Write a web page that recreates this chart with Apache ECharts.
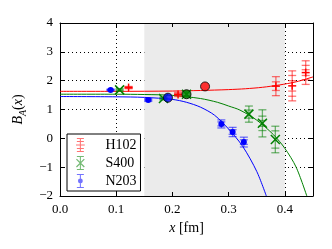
<!DOCTYPE html>
<html><head><meta charset="utf-8">
<script src="https://cdn.jsdelivr.net/npm/echarts@6/dist/echarts.min.js"></script>
<style>html,body{margin:0;padding:0;background:#fff}#c{width:332px;height:249px}</style>
</head><body><div id="c"></div>
<script>
// ---- data ----
const xTicks = [0.0, 0.1, 0.2, 0.3, 0.4];
const yTicks = [-2, -1, 0, 1, 2, 3, 4];
const seriesNames = ['H102', 'S400', 'N203'];

// H102 points (red, '+')
const H102_x  = [0.122, 0.210, 0.384, 0.413, 0.437];
const H102_y  = [1.76, 1.52, 1.81, 1.82, 2.28];
const H102_e1 = [0.04, 0.07, 0.33, 0.52, 0.41];
const H102_e2 = [0.02, 0.03, 0.15, 0.36, 0.25];
const H102_e3 = [0, 0, 0, 0.18, 0.10];

// S400 points (green, 'x')
const S400_x  = [0.106, 0.184, 0.225, 0.336, 0.360, 0.383];
const S400_y  = [1.68, 1.38, 1.53, 0.84, 0.52, -0.04];
const S400_e1 = [0.04, 0.05, 0.10, 0.28, 0.47, 0.46];
const S400_e2 = [0.02, 0.02, 0.05, 0.14, 0.25, 0.30];
const S400_e3 = [0, 0, 0, 0, 0.10, 0];

// N203 points (blue, dot)
const N203_x  = [0.090, 0.157, 0.287, 0.307, 0.327];
const N203_y  = [1.68, 1.33, 0.50, 0.22, -0.13];
const N203_e1 = [0.03, 0.05, 0.14, 0.16, 0.17];
const N203_e2 = [0.01, 0.02, 0.07, 0.08, 0.08];
const N203_e3 = [0, 0, 0, 0, 0];

// big circles
const big_x = [0.258, 0.225, 0.192];
const big_y = [1.80, 1.53, 1.41];

// fitted curves
const H102_fit_x = [0, 0.1, 0.2, 0.25, 0.3, 0.33, 0.36, 0.39, 0.42, 0.45];
const H102_fit_y = [1.63, 1.63, 1.64, 1.66, 1.69, 1.72, 1.77, 1.85, 1.96, 2.13];
const S400_fit_x = [0, 0.1, 0.15, 0.2, 0.25, 0.28, 0.3, 0.32, 0.35, 0.38, 0.4, 0.42, 0.439];
const S400_fit_y = [1.53, 1.53, 1.52, 1.49, 1.38, 1.25, 1.12, 0.98, 0.63, 0.12, -0.35, -1.0, -2.0];
const N203_fit_x = [0, 0.1, 0.15, 0.2, 0.225, 0.25, 0.275, 0.3, 0.325, 0.35, 0.367];
const N203_fit_y = [1.45, 1.44, 1.42, 1.35, 1.25, 1.08, 0.80, 0.32, -0.28, -1.15, -2.0];

const band = [0.15, 0.4];

// ---- build ----
const FONT = 'Liberation Serif';
const zip = (a, b) => a.map((v, i) => [v, b[i]]);
const pts = (x, y, e1, e2, e3) => x.map((v, i) => [v, y[i], e1[i], e2[i], e3[i]]);

function makeRender(marker, mcolor) {
  return function (params, api) {
    const x = api.value(0), y = api.value(1);
    const errs = [api.value(2), api.value(3), api.value(4)];
    const color = api.visual('color');
    const c = api.coord([x, y]);
    const emax = Math.max.apply(null, errs);
    const t = api.coord([x, y + emax]), b = api.coord([x, y - emax]);
    const ch = [];
    ch.push({type: 'line', shape: {x1: c[0], y1: t[1], x2: c[0], y2: b[1]}, style: {stroke: color, lineWidth: 1.3}});
    errs.forEach(function (e) {
      if (e > 0) {
        [1, -1].forEach(function (s) {
          const p = api.coord([x, y + s * e]);
          ch.push({type: 'line', shape: {x1: c[0] - 4, y1: p[1], x2: c[0] + 4, y2: p[1]}, style: {stroke: color, lineWidth: 1.3}});
        });
      }
    });
    if (marker === 'plus') {
      ch.push({type: 'line', shape: {x1: c[0] - 4, y1: c[1], x2: c[0] + 4, y2: c[1]}, style: {stroke: mcolor, lineWidth: 1.5}});
      ch.push({type: 'line', shape: {x1: c[0], y1: c[1] - 4, x2: c[0], y2: c[1] + 4}, style: {stroke: mcolor, lineWidth: 1.5}});
    } else if (marker === 'x') {
      ch.push({type: 'line', shape: {x1: c[0] - 4.5, y1: c[1] - 4.5, x2: c[0] + 4.5, y2: c[1] + 4.5}, style: {stroke: mcolor, lineWidth: 1.5}});
      ch.push({type: 'line', shape: {x1: c[0] - 4.5, y1: c[1] + 4.5, x2: c[0] + 4.5, y2: c[1] - 4.5}, style: {stroke: mcolor, lineWidth: 1.5}});
    } else {
      ch.push({type: 'circle', shape: {cx: c[0], cy: c[1], r: 3}, style: {fill: mcolor}});
    }
    return {type: 'group', children: ch};
  };
}

const capPath = 'M4,0H12V1.2H4Z M4,14.8H12V16H4Z M7.4,0H8.6V16H7.4Z ';
const icons = {
  H102: 'path://' + capPath + 'M4,3.5H12V4.5H4Z M4,11.5H12V12.5H4Z M3,7.4H13V8.6H3Z',
  S400: 'path://' + capPath + 'M3,4L4,3L13,12L12,13Z M12,3L13,4L4,13L3,12Z',
  N203: 'path://' + capPath + 'M8,5.2A2.8,2.8 0 1,1 7.99,5.2Z'
};

const axisCommon = {
  axisLine: {show: true, onZero: false, lineStyle: {color: '#000', width: 1}},
  axisTick: {show: true, inside: true, length: 4, lineStyle: {color: '#000'}},
  z: 1
};

const option = {
  animation: false,
  backgroundColor: '#fff',
  grid: {left: 60, right: 19, top: 23, bottom: 53},
  legend: {
    left: 67, top: 134, orient: 'vertical',
    data: seriesNames.map(n => ({name: n, icon: icons[n]})),
    itemWidth: 14, itemHeight: 14, itemGap: 4,
    padding: [4, 4, 3, 9],
    backgroundColor: '#fff', borderColor: '#000', borderWidth: 1, borderRadius: 0,
    textStyle: {fontFamily: FONT, fontSize: 14, color: '#000', padding: [0, 0, 0, 13]}
  },
  xAxis: [
    Object.assign({
      type: 'value', min: 0, max: 0.45, interval: 0.1, position: 'bottom',
      name: '{i|x} [fm]', nameLocation: 'middle', nameGap: 22,
      nameTextStyle: {fontFamily: FONT, fontSize: 14, color: '#000', rich: {i: {fontFamily: FONT, fontStyle: 'italic', fontSize: 14, color: '#000'}}},
      axisLabel: {showMaxLabel: false, margin: 7, fontFamily: FONT, fontSize: 13, color: '#000',
        formatter: v => xTicks.some(t => Math.abs(t - v) < 1e-9) ? v.toFixed(1) : ''},
      splitLine: {show: true, lineStyle: {color: '#000', type: [1, 3], width: 1}}
    }, axisCommon),
    Object.assign({
      type: 'value', min: 0, max: 0.45, interval: 0.1, position: 'top',
      axisLabel: {show: false}, splitLine: {show: false}
    }, axisCommon)
  ],
  yAxis: [
    Object.assign({
      type: 'value', min: -2, max: 4, interval: 1, position: 'left',
      name: '{i|B}{s|A}{n|(}{i|x}{n|)}', nameLocation: 'middle', nameGap: 27,
      nameTextStyle: {fontFamily: FONT, fontSize: 14, color: '#000', rich: {
        i: {fontFamily: FONT, fontStyle: 'italic', fontSize: 14, color: '#000'},
        s: {fontFamily: FONT, fontStyle: 'italic', fontSize: 10, color: '#000', padding: [9, 0, 0, 0]},
        n: {fontFamily: FONT, fontSize: 14, color: '#000'}
      }},
      axisLabel: {margin: 7, fontFamily: FONT, fontSize: 13, color: '#000',
        formatter: v => yTicks.indexOf(v) < 0 ? '' : (v < 0 ? '\u2212' + (-v) : String(v))},
      splitLine: {show: true, lineStyle: {color: '#000', type: [1, 3], width: 1}}
    }, axisCommon),
    Object.assign({
      type: 'value', min: -2, max: 4, interval: 1, position: 'right',
      axisLabel: {show: false}, splitLine: {show: false}
    }, axisCommon)
  ],
  series: [
    {type: 'line', data: [], z: 0, silent: true,
      markArea: {silent: true, itemStyle: {color: '#ebebeb'}, data: [[{xAxis: band[0]}, {xAxis: band[1]}]]}},
    {type: 'line', name: 'H102 fit', data: zip(H102_fit_x, H102_fit_y), smooth: 0.3, showSymbol: false, clip: true,
      lineStyle: {color: '#ff0000', width: 1}, z: 2},
    {type: 'line', name: 'S400 fit', data: zip(S400_fit_x, S400_fit_y), smooth: 0.3, showSymbol: false, clip: true,
      lineStyle: {color: '#008000', width: 1}, z: 2},
    {type: 'line', name: 'N203 fit', data: zip(N203_fit_x, N203_fit_y), smooth: 0.3, showSymbol: false, clip: true,
      lineStyle: {color: '#0000ff', width: 1}, z: 2},
    {type: 'custom', name: 'H102', data: pts(H102_x, H102_y, H102_e1, H102_e2, H102_e3), encode: {x: 0, y: 1},
      itemStyle: {color: 'rgba(255,0,0,0.55)'}, renderItem: makeRender('plus', '#ff0000'), clip: true, z: 3},
    {type: 'custom', name: 'S400', data: pts(S400_x, S400_y, S400_e1, S400_e2, S400_e3), encode: {x: 0, y: 1},
      itemStyle: {color: 'rgba(0,128,0,0.55)'}, renderItem: makeRender('x', '#008000'), clip: true, z: 3},
    {type: 'custom', name: 'N203', data: pts(N203_x, N203_y, N203_e1, N203_e2, N203_e3), encode: {x: 0, y: 1},
      itemStyle: {color: 'rgba(0,0,255,0.55)'}, renderItem: makeRender('dot', '#0000ff'), clip: true, z: 3},
    {type: 'scatter', name: 'big', symbol: 'circle', symbolSize: 9, z: 4,
      data: [
        {value: [big_x[0], big_y[0]], itemStyle: {color: '#ff0000'}},
        {value: [big_x[1], big_y[1]], itemStyle: {color: '#008000'}},
        {value: [big_x[2], big_y[2]], itemStyle: {color: '#0000ff'}}
      ],
      itemStyle: {borderColor: '#000', borderWidth: 1}}
  ]
};
const chart = echarts.init(document.getElementById('c'), null, {renderer: 'canvas'});
chart.setOption(option);
</script></body></html>
